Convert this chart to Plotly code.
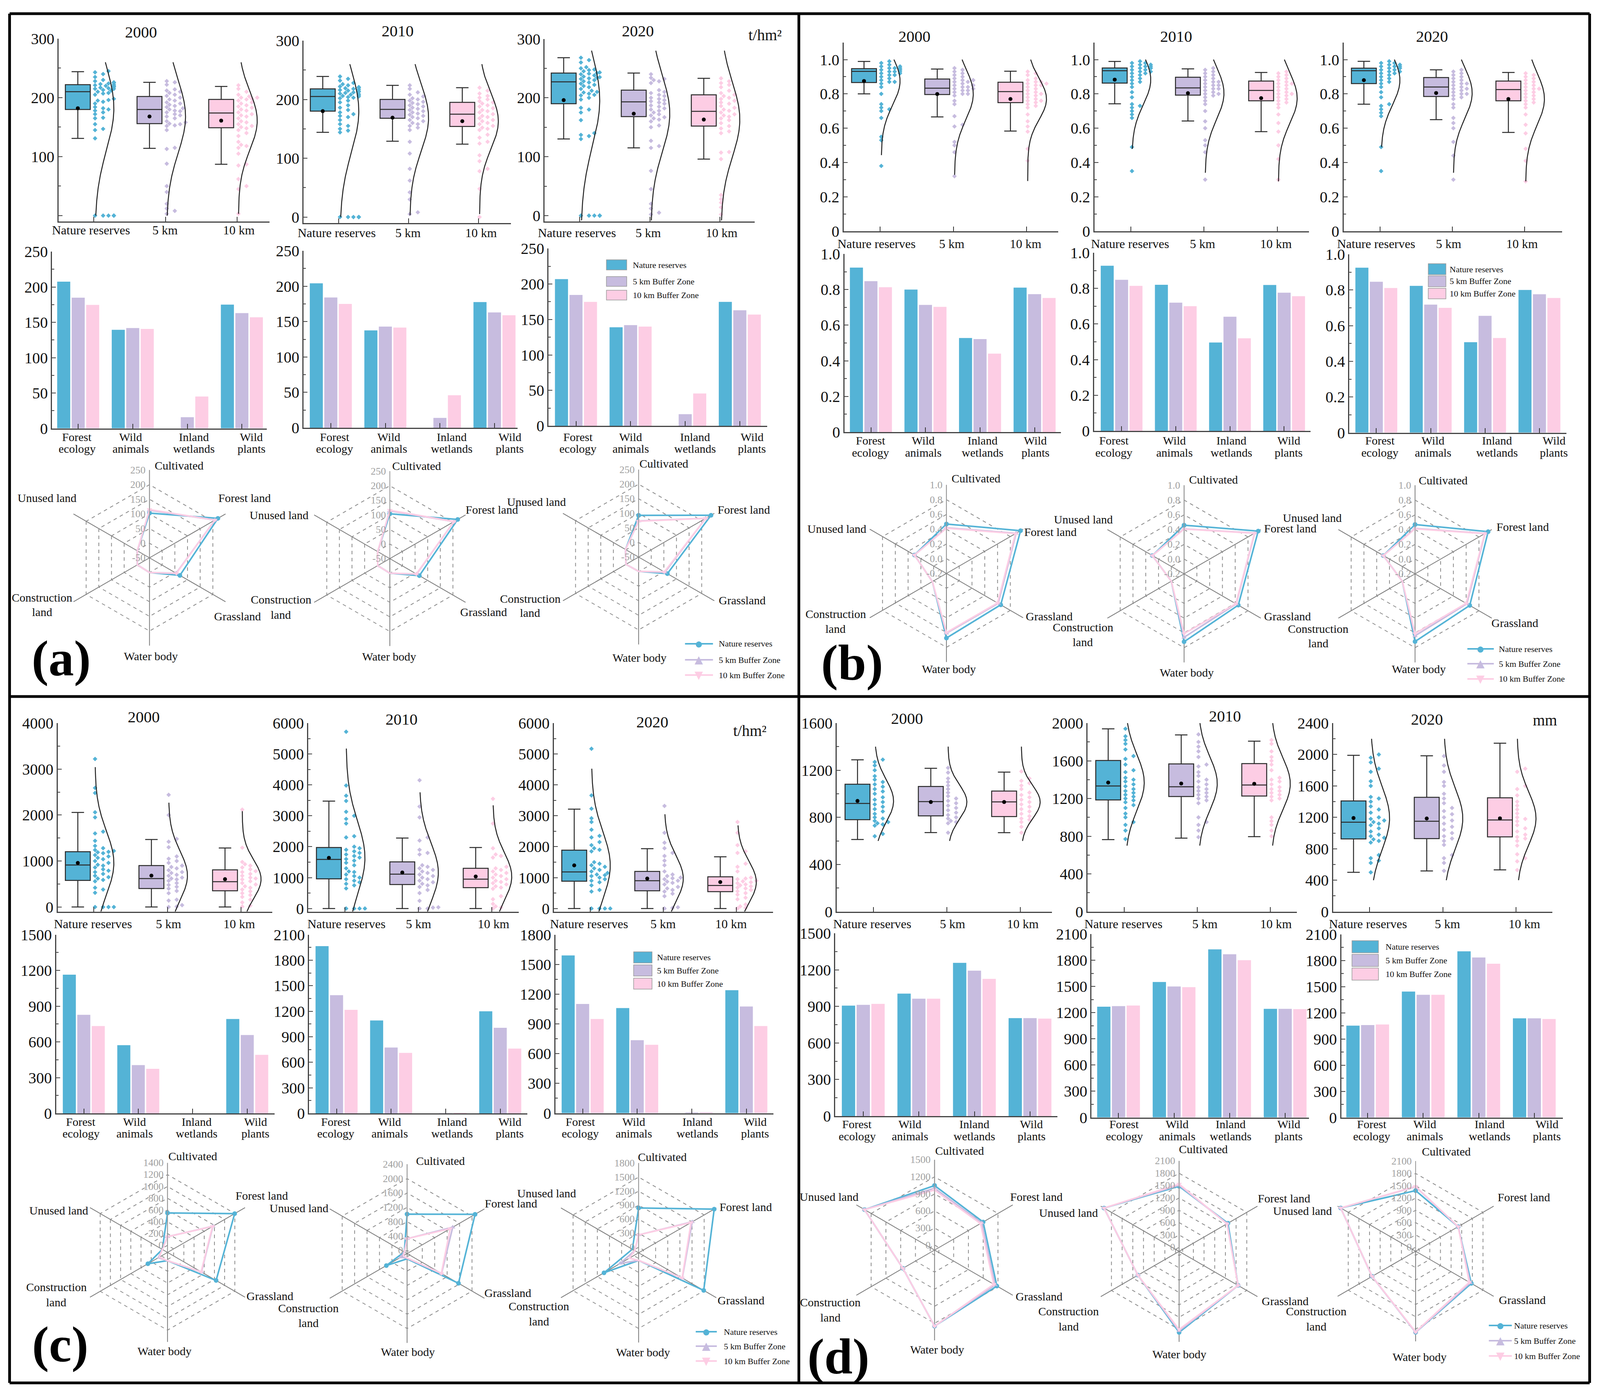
"""
Carbon, habitat, soil and water indicators by protected-area zone: boxes with
rain points, bars by service type and land-use radars, four panels of three years.
"""
import numpy as np
import plotly.graph_objects as go

W = 4174
H = 3571
FONT = "Liberation Serif"
ZONE_COLORS = ["#54B3D6", "#C7BCDF", "#FDCDE4"]
ZONE_SHORT = ["Nature reserves", "5 km", "10 km"]
ZONE_LONG = ["Nature reserves", "5 km Buffer Zone", "10 km Buffer Zone"]
BAR_LINES = [("Forest", "ecology"), ("Wild", "animals"), ("Inland", "wetlands"), ("Wild", "plants")]
LAND_USE = ["Cultivated", "Forest land", "Grassland", "Water body", "Construction land", "Unused land"]
YEARS = ["2000", "2010", "2020"]

# box stats per zone: lower fence, q1, median, q3, upper fence, mean
A00_BOX = [[131, 180, 210, 222, 244, 182], [114, 156, 180, 202, 226, 168], [87, 149, 174, 197, 219, 161]]
A10_BOX = [[144, 180, 205, 218, 239, 180], [129, 168, 183, 200, 224, 169], [124, 154, 175, 195, 220, 163]]
A20_BOX = [[130, 190, 227, 242, 268, 196], [115, 168, 193, 213, 242, 173], [96, 152, 177, 205, 233, 163]]
B00_BOX = [[.80, .866, .931, .947, .989, .875], [.666, .796, .833, .887, .945, .799], [.583, .749, .813, .868, .932, .77]]
B10_BOX = [[.742, .863, .935, .951, .989, .883], [.642, .793, .835, .897, .946, .804], [.58, .76, .82, .875, .925, .775]]
B20_BOX = [[.74, .86, .935, .95, .99, .88], [.65, .785, .84, .895, .94, .805], [.575, .76, .825, .875, .925, .77]]
C00_BOX = [[0, 578, 914, 1203, 2057, 958], [0, 403, 618, 901, 1469, 682], [0, 353, 551, 807, 1284, 605]]
C10_BOX = [[0, 960, 1590, 1975, 3475, 1640], [0, 775, 1110, 1510, 2280, 1165], [0, 675, 950, 1300, 1975, 1035]]
C20_BOX = [[0, 885, 1185, 1890, 3215, 1395], [0, 575, 900, 1200, 1935, 970], [0, 545, 745, 1025, 1675, 855]]
D00_BOX = [[612, 780, 918, 1081, 1288, 939], [671, 813, 934, 1062, 1216, 930], [670, 807, 931, 1023, 1184, 930]]
D10_BOX = [[764, 1185, 1333, 1603, 1939, 1369], [780, 1221, 1325, 1567, 1875, 1359], [795, 1226, 1343, 1570, 1808, 1356]]
D20_BOX = [[500, 925, 1138, 1409, 1990, 1191], [518, 929, 1150, 1455, 1984, 1185], [531, 951, 1167, 1449, 2144, 1187]]

# rain points per zone
A00_PTS = [
    [0, 0, 0, 0, 0, 0, 131, 145, 147, 155, 165, 166, 172, 175, 178, 180, 182, 184, 190, 193, 195, 196, 198, 205, 207, 208, 210, 212, 213, 215, 215, 216, 217, 218, 219, 220, 220, 221, 222, 223, 224, 225, 226, 228, 230, 235, 240, 243, 245],
    [3, 8, 12, 20, 40, 50, 88, 113, 115, 145, 152, 153, 155, 156, 158, 160, 165, 168, 170, 172, 175, 177, 178, 180, 182, 184, 186, 188, 190, 192, 195, 197, 200, 203, 205, 208, 210, 212, 214, 222, 226, 228],
    [3, 45, 50, 62, 85, 87, 105, 115, 118, 120, 125, 135, 140, 145, 148, 150, 152, 155, 158, 160, 165, 168, 170, 172, 175, 178, 180, 183, 185, 187, 190, 192, 195, 197, 198, 200, 200, 202, 205, 210, 215, 221],
]
A10_PTS = [
    [0, 0, 0, 0, 0, 0, 144, 147, 150, 155, 158, 165, 170, 172, 175, 178, 182, 186, 190, 195, 198, 202, 203, 204, 205, 206, 207, 208, 209, 210, 211, 212, 213, 214, 215, 216, 217, 218, 219, 220, 221, 222, 224, 226, 228, 232, 235, 239],
    [5, 8, 30, 42, 62, 82, 108, 128, 148, 152, 155, 158, 160, 163, 165, 168, 170, 172, 174, 176, 178, 180, 182, 184, 186, 188, 190, 192, 194, 196, 198, 200, 202, 205, 208, 212, 218, 224],
    [0, 48, 78, 82, 95, 105, 125, 128, 135, 140, 148, 150, 152, 155, 158, 160, 163, 165, 168, 170, 172, 175, 178, 180, 182, 185, 188, 190, 193, 195, 197, 200, 203, 206, 210, 215, 220],
]
A20_PTS = [
    [0, 0, 0, 0, 0, 0, 130, 135, 137, 140, 162, 175, 180, 183, 197, 200, 204, 205, 207, 209, 210, 212, 215, 218, 220, 222, 224, 226, 228, 230, 232, 233, 234, 235, 236, 238, 240, 241, 242, 243, 245, 247, 248, 250, 252, 260, 264, 268],
    [2, 5, 12, 20, 45, 76, 115, 118, 127, 150, 153, 160, 163, 165, 167, 170, 172, 175, 178, 180, 182, 185, 187, 190, 192, 194, 196, 198, 200, 203, 205, 208, 210, 213, 225, 228, 230, 232, 234, 240],
    [2, 14, 22, 28, 35, 96, 107, 108, 140, 143, 148, 152, 157, 162, 165, 168, 170, 172, 175, 178, 180, 183, 186, 190, 192, 195, 198, 200, 203, 205, 208, 212, 218, 222, 225, 228, 233],
]
B00_PTS = [
    [.38, .53, .55, .66, .70, .71, .72, .74, .80, .84, .86, .87, .87, .88, .89, .90, .91, .91, .92, .92, .93, .93, .93, .94, .94, .94, .94, .95, .95, .95, .95, .96, .96, .97, .98, .99],
    [.32, .46, .50, .52, .61, .62, .67, .74, .76, .79, .80, .80, .81, .82, .82, .83, .83, .84, .84, .85, .85, .86, .87, .87, .88, .88, .89, .90, .91, .92, .93, .94, .95],
    [.41, .48, .58, .61, .64, .68, .72, .73, .74, .75, .76, .76, .77, .78, .79, .80, .80, .81, .82, .83, .84, .85, .85, .86, .86, .87, .87, .88, .89, .91, .92, .93],
]
B10_PTS = [
    [.35, .49, .66, .68, .70, .72, .73, .74, .78, .81, .84, .86, .87, .88, .89, .90, .91, .92, .92, .93, .93, .94, .94, .95, .95, .95, .96, .96, .96, .97, .97, .98, .98, .99],
    [.30, .46, .50, .53, .60, .64, .70, .74, .76, .78, .79, .80, .80, .81, .82, .83, .83, .84, .85, .85, .86, .87, .87, .88, .89, .90, .91, .92, .93, .94, .95],
    [.30, .42, .50, .58, .63, .68, .72, .74, .75, .76, .77, .78, .79, .80, .80, .81, .82, .83, .84, .85, .86, .86, .87, .88, .89, .90, .91, .92, .93],
]
B20_PTS = [
    [.35, .49, .67, .69, .71, .73, .74, .78, .81, .84, .86, .87, .88, .89, .90, .91, .92, .92, .93, .93, .94, .94, .95, .95, .95, .96, .96, .96, .97, .97, .98, .98, .99],
    [.30, .44, .52, .60, .63, .66, .72, .74, .77, .78, .79, .80, .80, .81, .82, .83, .83, .84, .85, .86, .86, .87, .88, .89, .90, .91, .92, .93, .94],
    [.29, .41, .48, .57, .62, .68, .72, .74, .75, .76, .77, .78, .79, .80, .81, .82, .83, .83, .84, .85, .86, .87, .88, .89, .90, .91, .92],
]
C00_PTS = [
    [3220, 2590, 2480, 2060, 1950, 1640, 1600, 1440, 1330, 1280, 1240, 1220, 1200, 1190, 1170, 1130, 1100, 1070, 1040, 1000, 960, 920, 900, 860, 820, 790, 760, 720, 680, 650, 620, 590, 560, 420, 380, 310, 0, 0, 0, 0],
    [2440, 2000, 1480, 1420, 1300, 1100, 1050, 1000, 960, 900, 870, 840, 800, 760, 740, 700, 680, 640, 620, 600, 570, 520, 480, 440, 400, 350, 300, 160, 140, 40, 10, 0],
    [2120, 1290, 980, 930, 900, 860, 820, 780, 760, 720, 680, 640, 620, 600, 560, 520, 490, 450, 420, 380, 340, 300, 260, 220, 160, 100, 30, 10],
]
C10_PTS = [
    [5720, 3980, 3650, 3480, 3130, 3000, 2900, 2750, 2340, 2300, 2000, 1950, 1900, 1850, 1800, 1750, 1700, 1650, 1600, 1550, 1480, 1400, 1300, 1200, 1180, 1100, 1050, 1000, 950, 900, 850, 800, 750, 650, 0, 0, 0, 0],
    [4150, 3300, 2950, 2300, 2200, 1900, 1800, 1750, 1400, 1350, 1300, 1250, 1200, 1150, 1100, 1050, 1000, 950, 900, 850, 800, 750, 700, 600, 500, 250, 40, 30, 0, 0],
    [3550, 2750, 1950, 1750, 1700, 1650, 1350, 1300, 1250, 1200, 1150, 1100, 1050, 1000, 950, 900, 860, 820, 780, 720, 680, 640, 400, 300, 150, 70, 30, 0],
]
C20_PTS = [
    [5170, 3660, 3230, 2920, 2800, 2550, 2350, 2300, 2150, 2050, 1950, 1900, 1850, 1500, 1450, 1400, 1350, 1300, 1250, 1200, 1150, 1100, 1080, 1050, 1000, 950, 900, 850, 750, 600, 550, 0, 0, 0, 0],
    [3320, 2450, 2130, 1950, 1800, 1700, 1550, 1400, 1200, 1100, 1050, 1000, 980, 950, 900, 870, 830, 780, 700, 650, 600, 550, 480, 400, 40, 20, 0],
    [2800, 2450, 2050, 1850, 1800, 1450, 1350, 1200, 1000, 970, 950, 900, 880, 850, 820, 780, 750, 720, 680, 650, 600, 560, 500, 450, 350, 300, 130, 70, 20, 0],
]
D00_PTS = [
    [1290, 1270, 1240, 1200, 1150, 1120, 1100, 1080, 1060, 1040, 1020, 1000, 970, 950, 930, 910, 890, 870, 850, 830, 800, 790, 770, 760, 750, 740, 730, 660, 640],
    [1220, 1180, 1130, 1100, 1070, 1040, 1010, 980, 960, 940, 920, 900, 880, 860, 840, 820, 800, 790, 770, 760, 750, 670],
    [1190, 1130, 1110, 1090, 1070, 1040, 1010, 990, 970, 950, 930, 910, 890, 870, 850, 830, 810, 790, 780, 760, 720, 670],
]
D10_PTS = [
    [1940, 1860, 1820, 1780, 1720, 1650, 1620, 1560, 1500, 1480, 1420, 1400, 1380, 1350, 1330, 1300, 1280, 1260, 1240, 1220, 1200, 1180, 1160, 1130, 1100, 1040, 1000, 950, 920, 860, 770],
    [1880, 1800, 1750, 1700, 1640, 1560, 1540, 1480, 1440, 1400, 1380, 1350, 1320, 1300, 1280, 1260, 1240, 1220, 1200, 1180, 1150, 1000, 950, 920, 860, 790],
    [1820, 1780, 1700, 1640, 1600, 1560, 1500, 1420, 1400, 1380, 1350, 1320, 1300, 1280, 1260, 1240, 1220, 1200, 1180, 1000, 960, 920, 860, 800],
]
D20_PTS = [
    [2000, 1960, 1900, 1820, 1780, 1660, 1600, 1460, 1440, 1400, 1340, 1300, 1260, 1200, 1180, 1160, 1140, 1120, 1100, 1060, 1020, 980, 960, 940, 920, 900, 880, 720, 680, 650, 620, 500],
    [1980, 1860, 1780, 1650, 1600, 1500, 1440, 1380, 1320, 1280, 1240, 1200, 1160, 1120, 1080, 1040, 1000, 960, 930, 900, 850, 720, 680, 620, 520],
    [1820, 1780, 1600, 1560, 1480, 1400, 1350, 1300, 1250, 1200, 1180, 1150, 1100, 1060, 1020, 980, 950, 930, 900, 840, 730, 680, 640, 530],
]

# low and high end of each fitted curve
A00_SPAN = [[0, 260], [0, 260], [3, 260]]
A10_SPAN = [[0, 260], [3, 260], [5, 260]]
A20_SPAN = [[-8, 280], [-8, 280], [-8, 280]]
B00_SPAN = [[.443, 1], [.328, 1], [.292, 1]]
B10_SPAN = [[.48, 1], [.34, 1], [.29, 1]]
B20_SPAN = [[.49, 1], [.34, 1], [.29, 1]]
C00_SPAN = [[-100, 3042], [-100, 2269], [-100, 2084]]
C10_SPAN = [[-100, 5175], [-100, 3760], [-100, 3340]]
C20_SPAN = [[-100, 4525], [-100, 3050], [-100, 2690]]
D00_SPAN = [[600, 1400], [600, 1400], [600, 1400]]
D10_SPAN = [[700, 2000], [700, 2000], [700, 2000]]
D20_SPAN = [[400, 2200], [400, 2200], [400, 2200]]

# bars per zone across BAR_LINES
A00_BAR = [[207.5, 139.4, 0, 175], [184.8, 141.8, 15.8, 163], [174.6, 140.6, 45, 157]]
A10_BAR = [[204, 137.6, 0, 177.6], [184, 143, 14, 163], [175, 141.5, 46, 159]]
A20_BAR = [[207, 139, 0, 174.8], [184.6, 142, 16.4, 163], [174.8, 140, 45.6, 157]]
B00_BAR = [[.923, .80, .528, .811], [.847, .714, .522, .774], [.813, .703, .44, .753]]
B10_BAR = [[.927, .82, .496, .819], [.848, .72, .641, .776], [.814, .70, .52, .756]]
B20_BAR = [[.925, .823, .507, .80], [.846, .718, .655, .776], [.811, .70, .531, .755]]
C00_BAR = [[1164, 572, 0, 792], [827, 405, 0, 657], [733, 374, 0, 491]]
C10_BAR = [[1965, 1091, 0, 1199], [1388, 773, 2, 1005], [1216, 710, 5, 761]]
C20_BAR = [[1590, 1060, 0, 1240], [1101, 736, 5, 1075], [949, 689, 10, 878]]
D00_BAR = [[906, 1005, 1257, 804], [913, 963, 1193, 804], [921, 963, 1126, 800]]
D10_BAR = [[1268, 1551, 1924, 1243], [1275, 1499, 1869, 1243], [1281, 1492, 1800, 1240]]
D20_BAR = [[1053, 1445, 1906, 1137], [1060, 1407, 1836, 1137], [1067, 1407, 1764, 1130]]

# radar values per zone across LAND_USE
A00_RAD = [[103, 220, 70, 0, -2, -2], [113, 208, 55, 0, -2, -2], [115, 208, 56, 0, -2, -2]]
A10_RAD = [[104, 219, 67, 0, -2, -2], [114, 204, 56, 0, -2, -2], [116, 204, 55, 0, -2, -2]]
A20_RAD = [[93, 237, 64, -1, 0, 2], [74, 216, 54, -1, 0, 2], [73, 216, 52, -1, 0, 2]]
B00_RAD = [[.47, .96, .65, .675, .02, .30], [.42, .89, .61, .61, .02, .30], [.413, .88, .60, .60, .02, .30]]
B10_RAD = [[.459, .96, .648, .72, 0, .296], [.41, .905, .615, .66, 0, .296], [.407, .90, .61, .61, 0, .296]]
B20_RAD = [[.468, .944, .656, .717, 0, .296], [.415, .895, .61, .64, 0, .296], [.41, .89, .60, .61, 0, .296]]
C00_RAD = [[550, 1197, 833, 20, 265, -18], [147, 770, 545, 20, 60, -18], [147, 762, 539, 20, 42, -18]]
C10_RAD = [[1012, 2099, 1565, 58, 579, 0], [327, 1380, 1020, 40, 111, 0], [327, 1298, 1014, 36, 29, 0]]
C20_RAD = [[840, 1748, 1489, 43, 736, 34], [264, 1205, 960, 43, 333, -24], [264, 1176, 955, 43, 110, -24]]
D00_RAD = [[1047, 899, 1178, 1250, 555, 1334], [1000, 870, 1140, 1250, 555, 1334], [969, 846, 1116, 1250, 555, 1334]]
D10_RAD = [[1484, 1271, 1557, 1869, 1057, 2008], [1510, 1250, 1557, 1830, 1057, 2008], [1537, 1242, 1557, 1797, 1057, 2008]]
D20_RAD = [[1381, 1100, 1471, 1880, 1128, 2012], [1475, 1100, 1440, 1880, 1128, 2012], [1484, 1100, 1414, 1870, 1128, 2012]]

# axis scales: box y range, box tick step, bar top, bar tick step, radar range, radar tick step
A_SCALE = [([-10, 300], 100, 250, 50, [-50, 250], 50)] * 3
B_SCALE = [([0, 1.1], .2, 1, .2, [-.2, 1], .2)] * 3
C_SCALE = [([-100, 4000], 1000, 1500, 300, [-120, 1400], 200),
           ([-100, 6000], 1000, 2100, 300, [-88, 2400], 400),
           ([-100, 6000], 1000, 1800, 300, [-120, 1800], 300)]
D_SCALE = [([0, 1600], 400, 1500, 300, [-88, 1500], 300),
           ([0, 2000], 400, 2100, 300, [-100, 2100], 300),
           ([0, 2400], 400, 2100, 300, [-100, 2100], 300)]

# pixel layout: box (x0, x1, top, bottom, first tick, last tick)
BOX_GEO = {
    "a": [(153, 703, 99, 567, 245, 619), (792, 1333, 104, 570.6, 884, 1248), (1421, 1969, 99.5, 567, 1512.5, 1878)],
    "b": [(2201, 2761, 108.6, 591.6, 2296, 2678), (2855, 3415, 108.6, 591.6, 2950, 3332), (3505, 4075, 108.6, 591.6, 3600, 3977)],
    "c": [(150.6, 710, 1851, 2333.6, 245, 629), (804, 1353, 1851, 2333.6, 900, 1283), (1445, 2017, 1851, 2333.6, 1540, 1921)],
    "d": [(2183, 2744, 1851, 2333.6, 2279, 2661.5), (2837, 3383, 1851, 2333.6, 2933, 3314), (3477.5, 4050, 1851, 2333.6, 3573, 3955)],
}
BAR_GEO = {
    "a": [(136, 696, 644, 1096.5, 204, 631), (792, 1350, 642, 1095, 863, 1290), (1431, 2001, 636.4, 1090, 1502.6, 1930)],
    "b": [(2203, 2768, 650, 1106, 2272, 2699), (2854, 3419, 647, 1103, 2926, 3350), (3520, 4086, 651, 1107.6, 3590.5, 4016)],
    "c": [(146.6, 716, 2392.5, 2850, 218.6, 645), (806.5, 1376, 2392.5, 2850, 878, 1305), (1449, 2018, 2392.5, 2849.5, 1520, 1947)],
    "d": [(2179, 2758.5, 2389, 2857, 2252, 2687), (2847.6, 3415, 2391, 2860.5, 2918, 3352.6), (3499, 4077, 2392, 2860.5, 3568, 4002.6)],
}
RAD_GEO = {
    "a": [(390, 1428, 229), (1017, 1430, 228), (1666, 1426, 228)],
    "b": [(2469, 1468, 231), (3089, 1469, 231), (3691.5, 1469, 231)],
    "c": [(437, 3206, 233.5), (1062, 3209, 233), (1666, 3207, 234)],
    "d": [(2438, 3200, 235.5), (3076, 3203.4, 236), (3693, 3203, 235)],
}
YEAR_POS = {
    "a": [(368, 82), (1037.5, 79), (1664, 79)],
    "b": [(2386, 93), (3068, 93), (3736, 93)],
    "c": [(375, 1835), (1048, 1841), (1702, 1848)],
    "d": [(2366, 1838.5), (3196, 1833), (3723, 1841)],
}
# box label x for each zone, then y
BOX_LABEL = {
    "a": [(237, 431, 623, 589), (878, 1064, 1255, 596), (1505, 1691, 1883, 596)],
    "b": [(2287, 2483, 2675, 624), (2948, 3137, 3329, 624), (3590, 3779, 3971, 624)],
    "c": [(243, 440, 624, 2365), (904, 1092, 1288, 2365), (1537, 1730, 1907.5, 2365)],
    "d": [(2276, 2485, 2668, 2365), (2931, 3143, 3329, 2365), (3569, 3776, 3977, 2365)],
}
# bar label x for each category
BAR_LABEL_X = {
    "a": [(201, 341, 506, 656), (873, 1014, 1179, 1330), (1508, 1645, 1813, 1962)],
    "b": [(2271, 2409, 2563, 2701), (2906, 3064, 3213, 3362), (3600, 3738, 3905.5, 4054)],
    "c": [(211, 351, 513, 666.5), (876, 1016, 1180, 1330), (1514, 1653, 1820, 1970)],
    "d": [(2236, 2374, 2542, 2691), (2933, 3071, 3210, 3362), (3578.6, 3717, 3886, 4035.6)],
}
BAR_LABEL_Y = {"a": (1118, 1148), "b": (1128, 1158), "c": (2871, 2901.5), "d": (2877.5, 2908)}
# radar label centres: Cultivated, Forest, Grassland, Water, Construction, land, Unused
RAD_LABEL = {
    "a": [[(467, 1191), (638, 1275), (620, 1578), (393, 1679), (110, 1529), (110, 1567), (123, 1275)],
          [(1087, 1192), (1283, 1304), (1262, 1567), (1015, 1681), (733, 1535), (733, 1573), (728, 1319)],
          [(1732, 1186), (1940, 1304), (1936, 1536), (1668, 1683), (1383, 1532), (1383, 1569), (1400, 1284)]],
    "b": [[(2546, 1224), (2740, 1361), (2737, 1577.5), (2475, 1712), (2180, 1571.6), (2180, 1609), (2183, 1354)],
          [(3166, 1228), (3366, 1353), (3359, 1577), (3096, 1721), (2825, 1605), (2825, 1643), (2826, 1330)],
          [(3765, 1230), (3972, 1348), (3952, 1594), (3701, 1712), (3439, 1609), (3439, 1647), (3423, 1325)]],
    "c": [[(502.5, 2959), (682.5, 3060), (704, 3317), (429, 3458), (147, 3294.5), (147, 3333), (153, 3098)],
          [(1149, 2971), (1333, 3080), (1325, 3309.5), (1064, 3460.5), (805, 3348), (805, 3386.5), (780, 3092)],
          [(1727.5, 2961), (1945, 3089), (1933, 3328), (1677, 3461), (1406, 3343), (1406, 3382), (1426, 3054)]],
    "d": [[(2503, 2945), (2704, 3063), (2711, 3318), (2445, 3454), (2166, 3333), (2166, 3372), (2163, 3063)],
          [(3139, 2941), (3350, 3067), (3353, 3330), (3076, 3466), (2788, 3356), (2788, 3395), (2788, 3104)],
          [(3773, 2947), (3975, 3064), (3971, 3327), (3703.5, 3473), (3434, 3356), (3434, 3395), (3398, 3099)]],
}
PANEL_TAG = {"a": (160, 1685), "b": (2223, 1696), "c": (157, 3441), "d": (2187, 3472)}
# swatch legend: x0, x1, text x, then (top, bottom) per row
BAR_LEGEND = {
    "a": (1582, 1635, 1649, [(665, 691), (708, 733), (743, 768)]),
    "b": (3726, 3772, 3780, [(675, 703), (706, 734), (738, 765)]),
    "c": (1653, 1701, 1712, [(2436.5, 2465), (2470, 2498.5), (2504, 2532)]),
    "d": (3527, 3596, 3612, [(2408, 2439), (2443, 2474), (2478, 2509)]),
}
# line legend: x0, x1, text x, then y per row
RAD_LEGEND = {
    "a": (1787, 1860, 1873, [1648, 1689, 1728]),
    "b": (3828, 3897, 3908, [1661, 1699, 1738]),
    "c": (1815, 1870, 1886, [3409, 3446, 3484]),
    "d": (3884, 3944, 3948, [3393, 3432, 3471]),
}
UNITS = [("t/hm²", 1996, 90), ("t/hm²", 1956, 1870), ("mm", 4030, 1843)]
SWARM_COLUMNS = [0, 21, 7, 35, 14, 42, 28, 49]

PANELS = [
    ("a", [A00_BOX, A10_BOX, A20_BOX], [A00_PTS, A10_PTS, A20_PTS], [A00_SPAN, A10_SPAN, A20_SPAN],
     [A00_BAR, A10_BAR, A20_BAR], [A00_RAD, A10_RAD, A20_RAD], A_SCALE),
    ("b", [B00_BOX, B10_BOX, B20_BOX], [B00_PTS, B10_PTS, B20_PTS], [B00_SPAN, B10_SPAN, B20_SPAN],
     [B00_BAR, B10_BAR, B20_BAR], [B00_RAD, B10_RAD, B20_RAD], B_SCALE),
    ("c", [C00_BOX, C10_BOX, C20_BOX], [C00_PTS, C10_PTS, C20_PTS], [C00_SPAN, C10_SPAN, C20_SPAN],
     [C00_BAR, C10_BAR, C20_BAR], [C00_RAD, C10_RAD, C20_RAD], C_SCALE),
    ("d", [D00_BOX, D10_BOX, D20_BOX], [D00_PTS, D10_PTS, D20_PTS], [D00_SPAN, D10_SPAN, D20_SPAN],
     [D00_BAR, D10_BAR, D20_BAR], [D00_RAD, D10_RAD, D20_RAD], D_SCALE),
]

fig = go.Figure()
annotations = []
shapes = []
axis_count = 0
polar_count = 0


def px(x):
    return x / W


def py(y):
    return 1 - y / H


def add_text(x, y, text, size=31, color="#111111", anchor="center", bold=False):
    annotations.append(dict(
        x=px(x), y=py(y), xref="paper", yref="paper", text=f"<b>{text}</b>" if bold else text,
        showarrow=False, xanchor=anchor, yanchor="middle",
        font=dict(family=FONT, size=size, color=color),
    ))


def new_axes(geo, xr, yr, tickvals, ticktext, ytick, minor, xticks):
    global axis_count
    axis_count += 1
    n = axis_count
    line = dict(showline=True, linecolor="#444444", linewidth=3, showgrid=False, zeroline=False)
    fig.layout[f"xaxis{n}"] = dict(
        domain=[px(geo[0]), px(geo[1])], range=xr, anchor=f"y{n}", tickmode="array", tickvals=xticks,
        showticklabels=False, ticks="inside", ticklen=12, tickwidth=2, tickcolor="#333333", **line)
    fig.layout[f"yaxis{n}"] = dict(
        domain=[py(geo[3]), py(geo[2])], range=yr, anchor=f"x{n}", tickmode="array", tickvals=tickvals,
        ticktext=ticktext, ticks="inside", ticklen=10, tickwidth=2, tickcolor="#444444",
        minor=dict(tickmode="linear", tick0=0, dtick=minor, ticks="inside", ticklen=6, tickwidth=1.5, tickcolor="#444444"),
        tickfont=dict(family=FONT, size=40, color="#111111"), **line)
    return f"x{n}", f"y{n}"


def tick_texts(vals, step):
    if step < 1:
        return ["0" if v == 0 else f"{v:.1f}" for v in vals]
    return [str(int(v)) for v in vals]


def swarm(vals, unit_px):
    """Offsets in pixels so that points of a rain column do not overlap; lone points stay left."""
    placed = []
    for v in sorted(vals):
        off = 0
        for off in SWARM_COLUMNS:
            if all((off - o) ** 2 + ((v - w) * unit_px) ** 2 >= 72 for o, w in placed):
                break
        placed.append((off, v))
    return [p[0] for p in placed], [p[1] for p in placed]


def draw_box(geo, scale, stats, points, spans, hide_zero):
    yr, step = scale[0], scale[1]
    spacing = (geo[5] - geo[4]) / 2
    ticks = [0, 1, 2]
    xr = [(geo[0] - geo[4]) / spacing, (geo[1] - geo[4]) / spacing]
    vals = list(np.arange(0, yr[1] + step / 2, step))
    labels = tick_texts(vals, step)
    if hide_zero:
        labels[0] = ""
    xa, ya = new_axes(geo, xr, yr, vals, labels, step, step / 2, ticks)
    unit_px = (geo[3] - geo[2]) / (yr[1] - yr[0])
    for i in range(3):
        low, q1, med, q3, high, mean = stats[i]
        centre = i - 42 / spacing
        fig.add_trace(go.Box(
            x=[centre], q1=[q1], median=[med], q3=[q3], lowerfence=[low], upperfence=[high],
            width=65 / spacing, whiskerwidth=0.5, fillcolor=ZONE_COLORS[i],
            line=dict(color="#2b2b2b", width=2.5), boxpoints=False, xaxis=xa, yaxis=ya, showlegend=False))
        fig.add_trace(go.Scatter(
            x=[centre], y=[mean], mode="markers", marker=dict(color="black", size=10),
            xaxis=xa, yaxis=ya, showlegend=False))
        offs, ys = swarm(points[i], unit_px)
        fig.add_trace(go.Scatter(
            x=[i + (o + 3) / spacing for o in offs], y=ys, mode="markers",
            marker=dict(color=ZONE_COLORS[i], size=9, symbol="diamond"),
            xaxis=xa, yaxis=ya, showlegend=False))
        sd = np.std(points[i])
        grid = np.linspace(spans[i][0], spans[i][1], 120)
        density = np.exp(-0.5 * ((grid - mean) / sd) ** 2)
        fig.add_trace(go.Scatter(
            x=i + (3 + 49 * density) / spacing, y=grid, mode="lines",
            line=dict(color="#222222", width=2.5), xaxis=xa, yaxis=ya, showlegend=False))


def draw_bars(geo, scale, bars):
    top, step = scale[2], scale[3]
    spacing = (geo[5] - geo[4]) / 3
    cats = list(range(len(BAR_LINES)))
    xr = [(geo[0] - geo[4]) / spacing, (geo[1] - geo[4]) / spacing]
    vals = list(np.arange(0, top + step / 2, step))
    xa, ya = new_axes(geo, xr, [0, top], vals, tick_texts(vals, step), step, step / 2, cats)
    for i in range(3):
        fig.add_trace(go.Bar(
            x=cats, y=bars[i], name=ZONE_LONG[i], marker=dict(color=ZONE_COLORS[i], line=dict(width=0)),
            xaxis=xa, yaxis=ya, showlegend=False))


def draw_radar(geo, scale, radar):
    global polar_count
    polar_count += 1
    name = f"polar{polar_count}"
    rng, step = scale[4], scale[5]
    cx, cy, radius = geo
    if rng[0] == -50 or rng[0] == -.2:
        rticks = list(np.arange(rng[0], rng[1] + step / 2, step))
    else:
        rticks = list(np.arange(0, rng[1] + step / 2, step))
    if step < 1:
        rlabels = [f"{v:.1f}" for v in rticks]
    else:
        rlabels = [str(int(v)) for v in rticks]
    fig.layout[name] = dict(
        domain=dict(x=[px(cx - radius), px(cx + radius)], y=[py(cy + radius), py(cy - radius)]),
        bgcolor="rgba(0,0,0,0)", gridshape="linear",
        radialaxis=dict(
            range=rng, angle=90, tickangle=90, side="counterclockwise", tickmode="array", tickvals=rticks,
            ticktext=rlabels, griddash="dash", gridcolor="#8a8a8a", gridwidth=2, showline=True,
            linecolor="#999999", linewidth=2, ticks="", tickfont=dict(family=FONT, size=26, color="#a0a0a0")),
        angularaxis=dict(
            type="category", categoryorder="array", categoryarray=LAND_USE, rotation=90, direction="clockwise",
            showticklabels=False, ticks="", showline=False, gridcolor="#7a7a7a", gridwidth=2),
    )
    symbols = ["circle", "triangle-up", "triangle-down"]
    for i in range(3):
        fig.add_trace(go.Scatterpolar(
            r=radar[i] + radar[i][:1], theta=LAND_USE + LAND_USE[:1], mode="lines+markers", subplot=name,
            line=dict(color=ZONE_COLORS[i], width=4), marker=dict(size=12, symbol=symbols[i], color=ZONE_COLORS[i]),
            showlegend=False))


for key, boxes, pts, spans, bars, rads, scales in PANELS:
    for j in range(3):
        draw_box(BOX_GEO[key][j], scales[j], boxes[j], pts[j], spans[j], key == "a" and j == 0)
        draw_bars(BAR_GEO[key][j], scales[j], bars[j])
        draw_radar(RAD_GEO[key][j], scales[j], rads[j])

        add_text(*YEAR_POS[key][j], YEARS[j], size=41)
        lab = BOX_LABEL[key][j]
        for i in range(3):
            add_text(lab[i], lab[3], ZONE_SHORT[i], size=32)
        for c, words in enumerate(BAR_LINES):
            add_text(BAR_LABEL_X[key][j][c], BAR_LABEL_Y[key][0], words[0], size=30)
            add_text(BAR_LABEL_X[key][j][c], BAR_LABEL_Y[key][1], words[1], size=30)
        texts = ["Cultivated", "Forest land", "Grassland", "Water body", "Construction", "land", "Unused land"]
        for (tx, ty), text in zip(RAD_LABEL[key][j], texts):
            add_text(tx, ty, text, size=30)

    add_text(*PANEL_TAG[key], f"({key})", size=130, color="black", bold=True)

    sx0, sx1, stx, rows = BAR_LEGEND[key]
    for i, (top, bottom) in enumerate(rows):
        shapes.append(dict(type="rect", xref="paper", yref="paper", x0=px(sx0), x1=px(sx1), y0=py(bottom), y1=py(top),
                           fillcolor=ZONE_COLORS[i], line=dict(color="#999999", width=1.5)))
        add_text(stx, (top + bottom) / 2, ZONE_LONG[i], size=22, anchor="left")
    lx0, lx1, ltx, rows = RAD_LEGEND[key]
    for i, ry in enumerate(rows):
        shapes.append(dict(type="line", xref="paper", yref="paper", x0=px(lx0), x1=px(lx1), y0=py(ry), y1=py(ry),
                           line=dict(color=ZONE_COLORS[i], width=4)))
        add_text(ltx, ry, ZONE_LONG[i], size=22, anchor="left")
        add_text((lx0 + lx1) / 2, ry, "●▲▼"[i], size=36, color=ZONE_COLORS[i])

for text, ux, uy in UNITS:
    add_text(ux, uy, text, size=40)

# panel frame
for x0, y0, x1, y1 in [(25, 35, 4147, 35), (25, 3540, 4147, 3540), (25, 35, 25, 3540), (4147, 35, 4147, 3540),
                       (2084, 35, 2084, 3540), (25, 1783, 4147, 1783)]:
    shapes.append(dict(type="line", xref="paper", yref="paper", x0=px(x0), x1=px(x1), y0=py(y0), y1=py(y1),
                       line=dict(color="black", width=7)))

fig.update_layout(
    autosize=True, margin=dict(l=0, r=0, t=0, b=0, pad=0, autoexpand=False),
    paper_bgcolor="white", plot_bgcolor="white", showlegend=False,
    barmode="group", bargap=0.2035, bargroupgap=0.098, boxmode="overlay",
    annotations=annotations, shapes=shapes, font=dict(family=FONT),
)
fig.write_html("out.html", default_width="100vw", default_height="100vh",
               post_script="document.body.style.margin='0';window.dispatchEvent(new Event('resize'));",
               config={"displayModeBar": False, "responsive": True})
